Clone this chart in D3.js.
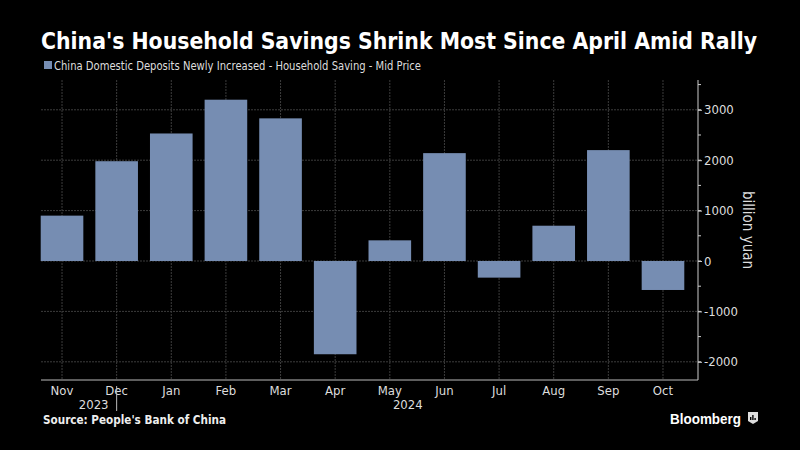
<!DOCTYPE html>
<html><head><meta charset="utf-8">
<script src="https://cdn.jsdelivr.net/npm/d3@7"></script>
<style>body{margin:0;background:#000;} svg{display:block;}</style>
</head><body>
<svg id="c" width="800" height="450"></svg>
<script>
const months = ["Nov","Dec","Jan","Feb","Mar","Apr","May","Jun","Jul","Aug","Sep","Oct"];
const values = [900, 1980, 2530, 3200, 2830, -1850, 410, 2140, -330, 700, 2200, -575];
const yTicks = [-2000, -1000, 0, 1000, 2000, 3000];
const yMinorTicks = [-2000,-1500,-1000,-500,0,500,1000,1500,2000,2500,3000,3500];
const years = [{label:"2023", month:"Dec", dx:-23}, {label:"2024", month:"May", dx:18}];

const svg = d3.select("#c");
svg.append("rect").attr("width",800).attr("height",450).attr("fill","#000");
const font = "'Liberation Sans Narrow','DejaVu Sans Condensed','Arial Narrow',sans-serif";

const x = d3.scaleBand().domain(months).range([34.7, 690.3]).paddingInner(0.22).paddingOuter(0.11);
const y = d3.scaleLinear().domain([-2361, 3591]).range([380, 80]);
const left = 41, right = 698;

// grid
const g = svg.append("g");
g.selectAll(".hg").data(yTicks).join("line")
  .attr("x1", left).attr("x2", right).attr("y1", d=>y(d)).attr("y2", d=>y(d))
  .attr("stroke","#3c3c3c").attr("stroke-dasharray","2,1");
g.selectAll(".vg").data(months).join("line")
  .attr("x1", d=>x(d)+x.bandwidth()/2).attr("x2", d=>x(d)+x.bandwidth()/2)
  .attr("y1", 80).attr("y2", 380)
  .attr("stroke","#3c3c3c").attr("stroke-dasharray","2,1");

// bars
svg.append("g").selectAll("rect").data(values).join("rect")
  .attr("x", (d,i)=>x(months[i]))
  .attr("width", x.bandwidth())
  .attr("y", d=>y(Math.max(0,d)))
  .attr("height", d=>Math.abs(y(d)-y(0)))
  .attr("fill","#768db2");

// right axis
const ax = svg.append("g").attr("transform",`translate(${right},0)`);
ax.call(d3.axisRight(y).tickValues(yTicks).tickSize(4).tickFormat(d=>String(d)));
ax.select(".domain").remove();
ax.append("line").attr("x1",0).attr("x2",0).attr("y1",80).attr("y2",380).attr("stroke","#ccc");
ax.selectAll(".minor").data(yMinorTicks).join("line").attr("class","minor")
  .attr("x1",0).attr("x2",3).attr("y1",d=>y(d)).attr("y2",d=>y(d)).attr("stroke","#ccc");
ax.selectAll(".tick line").attr("stroke","#ccc");
ax.selectAll(".tick text").attr("fill","#ddd").attr("font-family",font).attr("font-size",13).attr("x",6);

svg.append("text").attr("transform","translate(743,230) rotate(90)")
  .attr("text-anchor","middle").attr("fill","#ddd").attr("font-family",font).attr("font-size",15)
  .text("billion yuan");

// x axis
const bx = svg.append("g").attr("transform","translate(0,380)");
bx.append("line").attr("x1",left).attr("x2",right).attr("stroke","#bbb");
bx.selectAll("text").data(months).join("text")
  .attr("x", d=>x(d)+x.bandwidth()/2).attr("y", 15)
  .attr("text-anchor","middle").attr("fill","#ddd").attr("font-family",font).attr("font-size",13)
  .text(d=>d);
bx.selectAll(".yr").data(years).join("text")
  .attr("x", d=>x(d.month)+x.bandwidth()/2+d.dx).attr("y", 29)
  .attr("text-anchor","middle").attr("fill","#ddd").attr("font-family",font).attr("font-size",13)
  .text(d=>d.label);
bx.append("line").attr("x1", x("Dec")+x.bandwidth()/2).attr("x2", x("Dec")+x.bandwidth()/2)
  .attr("y1",6).attr("y2",31).attr("stroke","#bbb");

// title & legend
svg.append("text").attr("x",41).attr("y",49).attr("fill","#fff")
  .attr("font-family","'DejaVu Sans Condensed','Liberation Sans Narrow',sans-serif").attr("font-weight","bold").attr("font-size",23)
  .attr("textLength",716).attr("lengthAdjust","spacingAndGlyphs")
  .text("China's Household Savings Shrink Most Since April Amid Rally");
svg.append("rect").attr("x",44).attr("y",61).attr("width",8).attr("height",8).attr("fill","#768db2");
svg.append("text").attr("x",54).attr("y",69.5).attr("fill","#ddd")
  .attr("font-family",font).attr("font-size",12)
  .attr("textLength",367).attr("lengthAdjust","spacingAndGlyphs")
  .text("China Domestic Deposits Newly Increased - Household Saving - Mid Price");

// footer
svg.append("text").attr("x",43).attr("y",424).attr("fill","#eee")
  .attr("font-family","'DejaVu Sans Condensed',sans-serif").attr("font-weight","bold").attr("font-size",11.5)
  .attr("textLength",183).attr("lengthAdjust","spacingAndGlyphs")
  .text("Source: People's Bank of China");
svg.append("text").attr("x",670).attr("y",424).attr("fill","#fff")
  .attr("font-family","'Liberation Sans',sans-serif").attr("font-weight","bold").attr("font-size",15)
  .attr("textLength",71).attr("lengthAdjust","spacingAndGlyphs")
  .text("Bloomberg");
const logo = svg.append("g").attr("transform","translate(748,412)");
logo.append("path").attr("d","M0,0 H10 V9 L5,12 L0,9 Z").attr("fill","#ddd");
logo.selectAll("rect").data([3,5,2]).join("rect")
  .attr("x",(d,i)=>2+i*2.2).attr("y",d=>8-d).attr("width",1.4).attr("height",d=>d).attr("fill","#000");
</script>
</body></html>
